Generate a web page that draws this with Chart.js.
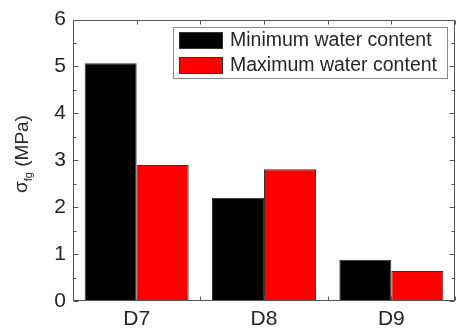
<!DOCTYPE html>
<html>
<head>
<meta charset="utf-8">
<script src="https://cdn.jsdelivr.net/npm/chart.js@4"></script>
<style>
  html, body { margin: 0; padding: 0; background: #fff; overflow: hidden; }
</style>
</head>
<body>
<canvas id="chart" width="456" height="333"></canvas>
<script>
// --- Data ---
const categories = ['D7', 'D8', 'D9'];
const minWater = [5.07, 2.2, 0.88];
const maxWater = [2.9, 2.81, 0.64];
const seriesNames = ['Minimum water content', 'Maximum water content'];
const yTicks = [0, 1, 2, 3, 4, 5, 6];

const FONT = "'Liberation Sans', Arial, sans-serif";
const TEXT = '#262626';
const AXIS = '#555';

// frame + inward tick marks on all four sides
const framePlugin = {
    id: 'frame',
    afterDatasetsDraw(chart) {
        const { ctx, chartArea: a, scales } = chart;
        const l = Math.round(a.left) + 0.5, r = Math.round(a.right) - 0.5;
        const t = Math.round(a.top) + 0.5, b = Math.round(a.bottom) - 0.5;
        ctx.save();
        ctx.strokeStyle = AXIS;
        ctx.lineWidth = 1;
        ctx.strokeRect(l, t, r - l, b - t);
        ctx.beginPath();
        // y ticks: majors at integers, minors at halves
        for (let v = 0; v <= 6; v += 0.5) {
            const y = Math.round(scales.y.getPixelForValue(v)) + 0.5;
            const len = Number.isInteger(v) ? 5 : 3;
            ctx.moveTo(l, y); ctx.lineTo(l + len, y);
            ctx.moveTo(r, y); ctx.lineTo(r - len, y);
        }
        // x ticks at category centres and boundaries
        for (let i = -0.5; i <= categories.length - 0.5; i += 0.5) {
            const x = Math.round(scales.x.getPixelForValue(i)) + 0.5;
            ctx.moveTo(x, t); ctx.lineTo(x, t + 4);
            ctx.moveTo(x, b); ctx.lineTo(x, b - 4);
        }
        ctx.stroke();
        ctx.restore();
    }
};

// boxed legend inside the plot, top right
const legendPlugin = {
    id: 'boxLegend',
    afterDraw(chart) {
        const { ctx } = chart;
        const bx = 173, by = 27, bw = 274, bh = 51;
        ctx.save();
        ctx.fillStyle = '#fff';
        ctx.fillRect(bx, by, bw, bh);
        ctx.strokeStyle = '#888';
        ctx.lineWidth = 1;
        ctx.strokeRect(bx + 0.5, by + 0.5, bw, bh);
        chart.data.datasets.forEach((ds, i) => {
            const sy = 32 + i * 25;
            ctx.fillStyle = ds.backgroundColor;
            ctx.fillRect(179, sy, 44, 17);
            ctx.strokeStyle = '#333';
            ctx.strokeRect(179.5, sy + 0.5, 43, 16);
            ctx.fillStyle = TEXT;
            ctx.font = '19.5px ' + FONT;
            ctx.textBaseline = 'middle';
            ctx.textAlign = 'left';
            ctx.fillText(ds.label, 230, sy + 9);
        });
        ctx.restore();
    }
};

// rotated y title with subscript
const yTitlePlugin = {
    id: 'yTitle',
    afterDraw(chart) {
        const { ctx } = chart;
        ctx.save();
        ctx.translate(28, 154);
        ctx.rotate(-Math.PI / 2);
        ctx.fillStyle = TEXT;
        ctx.textBaseline = 'alphabetic';
        ctx.textAlign = 'left';
        const big = '19px ' + FONT, small = '11px ' + FONT;
        ctx.font = big;
        const wS = ctx.measureText('\u03c3').width;
        const wU = ctx.measureText(' (MPa)').width;
        ctx.font = small;
        const wSub = ctx.measureText('fg').width;
        let x = -(wS + wSub + wU) / 2;
        ctx.font = big;
        ctx.fillText('\u03c3', x, -1);
        x += wS;
        ctx.font = small;
        ctx.fillText('fg', x, 4);
        x += wSub;
        ctx.font = big;
        ctx.fillText(' (MPa)', x, 0);
        ctx.restore();
    }
};

const chart = new Chart(document.getElementById('chart'), {
    type: 'bar',
    data: {
        labels: categories,
        datasets: [
            {
                label: seriesNames[0],
                data: minWater,
                backgroundColor: '#000000',
                borderColor: '#333',
                borderWidth: 1,
                categoryPercentage: 0.817,
                barPercentage: 1.0
            },
            {
                label: seriesNames[1],
                data: maxWater,
                backgroundColor: '#ff0000',
                borderColor: '#333',
                borderWidth: 1,
                categoryPercentage: 0.817,
                barPercentage: 1.0
            }
        ]
    },
    options: {
        responsive: false,
        animation: false,
        layout: { padding: { top: 16, right: 1, left: 0, bottom: 0 } },
        plugins: {
            legend: { display: false },
            tooltip: { enabled: false }
        },
        scales: {
            x: {
                grid: { display: false, drawTicks: false },
                border: { display: false },
                ticks: { font: { family: FONT, size: 21 }, color: TEXT, padding: 6 },
                afterFit(scale) { scale.height = 32; }
            },
            y: {
                min: 0,
                max: 6,
                grid: { display: false, drawTicks: false },
                border: { display: false },
                afterBuildTicks(scale) { scale.ticks = yTicks.map(v => ({ value: v })); },
                ticks: { font: { family: FONT, size: 21 }, color: TEXT, padding: 7 },
                afterFit(scale) { scale.width = 73; }
            }
        }
    },
    plugins: [framePlugin, legendPlugin, yTitlePlugin]
});
</script>
</body>
</html>
